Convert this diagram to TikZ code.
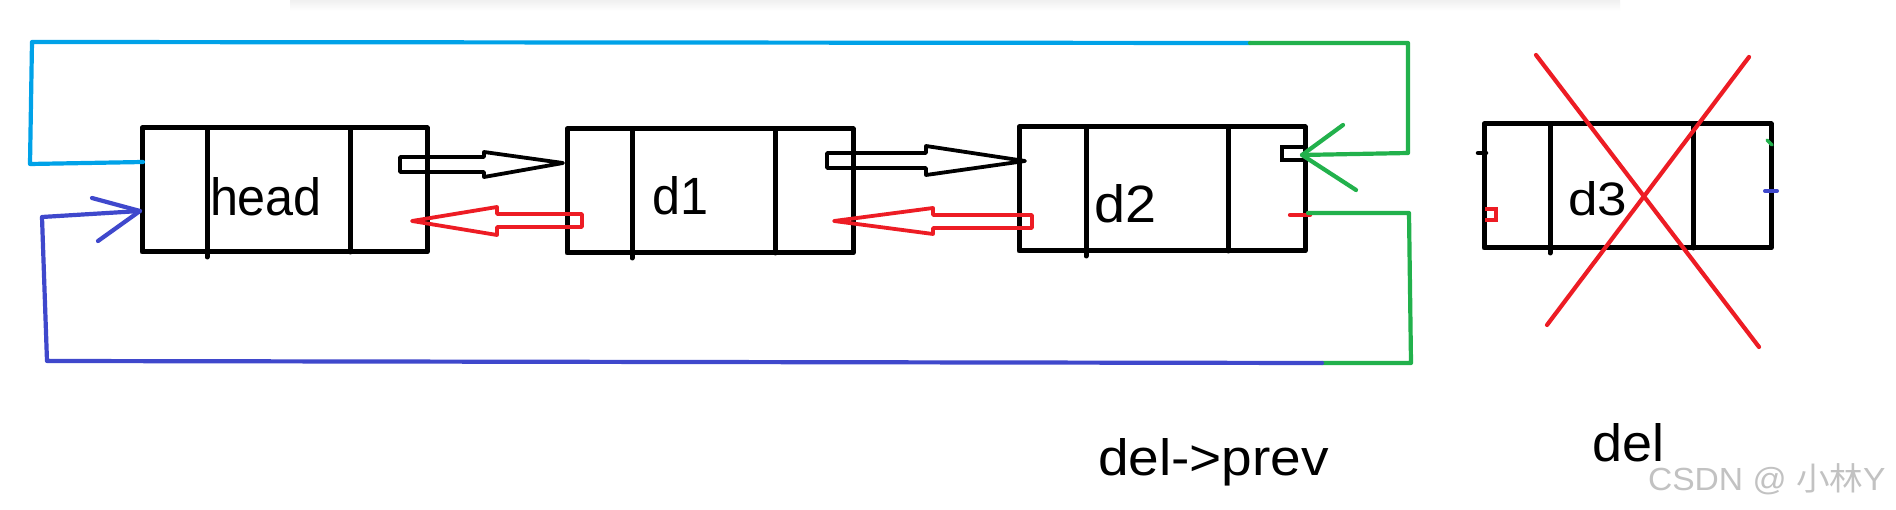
\documentclass[tikz,border=0pt]{standalone}
\usepackage{fontspec}
\setmainfont{Liberation Sans}
\newfontfamily\cjk{Noto Sans CJK SC}
\usepackage{graphicx}
\definecolor{pcyan}{HTML}{00A2E8}
\definecolor{pblue}{HTML}{3F48CC}
\definecolor{pgreen}{HTML}{22B14C}
\definecolor{pred}{HTML}{ED1C24}
\begin{document}
\begin{tikzpicture}[x=1pt,y=-1pt, line join=round, line cap=round,
  cell/.style={draw, line width=5pt, rectangle, inner sep=0pt, outer sep=0pt},
  divider/.style={line width=5pt},
  wire/.style={line width=4.2pt},
  hollow/.style={line width=3.8pt},
  lbl/.style={inner sep=0pt, outer sep=0pt, anchor=base west},
]
\useasboundingbox[fill=white] (0,0) rectangle (1896,510);
% faint screenshot shadow at the top
\shade[top color=black!6, bottom color=white] (290,0) rectangle (1620,11);

% boxes
\node[cell, minimum width=285pt, minimum height=124pt] (head) at (284.5,190) {};
\node[cell, minimum width=286pt, minimum height=124pt] (d1) at (710,191) {};
\node[cell, minimum width=286pt, minimum height=124pt] (d2) at (1162,189) {};
\node[cell, minimum width=287pt, minimum height=124pt] (d3) at (1627.5,186) {};

% dividers
\draw[divider] (207,128) -- (207,257);
\draw[divider] (350,128) -- (350,252);
\draw[divider] (632,129) -- (632,258);
\draw[divider] (775,129) -- (775,253);
\draw[divider] (1086,127) -- (1086,256);
\draw[divider] (1228,127) -- (1228,251);
\draw[divider] (1550,124) -- (1550,253);
\draw[divider] (1693,124) -- (1693,248);

% labels
\node[lbl] (thead) at (210,216) {\resizebox{112pt}{38pt}{head}};
\node[lbl] (td1) at (652,215) {\resizebox{56pt}{38pt}{d1}};
\node[lbl] (td2) at (1094,223) {\resizebox{62pt}{38pt}{d2}};
\node[lbl] (td3) at (1568,216) {\resizebox{59pt}{34pt}{d3}};
\node[lbl] (tprev) at (1098,475) {\resizebox{231pt}{37pt}{del->prev}};
\node[lbl] (tdel) at (1592,462) {\resizebox{72pt}{38pt}{del}};
\node[lbl, text=black!24] (wm) at (1648,490) {\scalebox{1.05}[1]{\fontsize{32pt}{32pt}\selectfont CSDN @ {\cjk 小林}Y}};

% named connector ends
\coordinate (cyS) at (143,162);
\coordinate (gT) at (1250,43);
\coordinate (gtip) at (1302,155);
\coordinate (gB) at (1308,213);
\coordinate (bJ) at (1322,363);
\coordinate (btip) at (140,211);

% next pointers (black hollow arrows)
\draw[hollow] (400,157) -- (484,157) -- (484,152) -- (563,163) -- (484,177) -- (484,172) -- (400,172) -- cycle;
\draw[hollow] (827,153) -- (926,153) -- (926,146) -- (1025,161) -- (926,175) -- (926,168) -- (827,168) -- cycle;
% prev pointers (red hollow arrows)
\draw[hollow, pred] (582,214) -- (497,214) -- (497,207) -- (412,221) -- (497,235) -- (497,227) -- (582,227) -- cycle;
\draw[hollow, pred] (1032,215) -- (933,215) -- (933,208) -- (834,221) -- (933,234) -- (933,228) -- (1032,228) -- cycle;

% d2 next stub and prev tick
\draw[line width=4pt, line join=miter, line cap=butt] (1303,147) -- (1282,147) -- (1282,160) -- (1303,160);
\draw[wire, pred] (1290,215) -- (1310,215);

% cyan / green loop (head.prev -> d2)
\draw[wire, pcyan] (cyS) -- (30,164) -- (32,42) -- (gT);
\draw[wire, pgreen] (gT) -- (1408,43) -- (1408,153) -- (gtip);
\draw[wire, pgreen] (1343,125) -- (gtip) -- (1356,190);

% green / blue loop (d2.next -> head)
\draw[wire, pgreen] (gB) -- (1409,213) -- (1411,363) -- (bJ);
\draw[wire, pblue] (bJ) -- (47,361) -- (42,217) -- (btip);
\draw[wire, pblue] (92,198) -- (btip) -- (98,241);

% d3 small marks
\draw[line width=4.5pt] (1478,153) -- (1486,153);
\draw[line width=3.5pt, pred, line join=miter, line cap=butt] (1485,209) -- (1496,209) -- (1496,220) -- (1485,220);
\draw[line width=3.5pt, pgreen] (1767,140) -- (1772,145);
\draw[line width=4pt, pblue] (1765,191) -- (1777,191);

% red cross over d3
\draw[wire, pred] (1536,55) -- (1759,347);
\draw[wire, pred] (1749,57) -- (1547,325);
\end{tikzpicture}
\end{document}
